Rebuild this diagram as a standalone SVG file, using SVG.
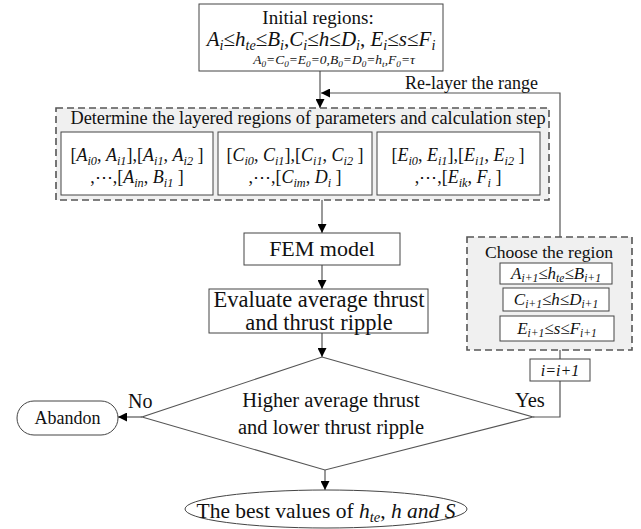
<svg xmlns="http://www.w3.org/2000/svg" width="641" height="529" viewBox="0 0 641 529">
  <defs>
    <style>
      text { font-family: "Liberation Serif", "Times New Roman", serif; fill: #111; }
      .box { fill: #fff; stroke: #444; stroke-width: 1; }
      .dash { fill: #f0f0f0; stroke: #555; stroke-width: 1.6; stroke-dasharray: 7 4; }
      .line { fill: none; stroke: #555; stroke-width: 1.2; }
      .v { font-style: italic; }
      .s { font-style: italic; font-size: 68%; }
      .up { font-style: normal; }
    </style>
    <marker id="arrow" viewBox="0 0 10 10" refX="10" refY="5" markerUnits="userSpaceOnUse" markerWidth="11" markerHeight="9" orient="auto">
      <path d="M0,0 L10,5 L0,10 z" fill="#000"/>
    </marker>
  </defs>

  <!-- connectors and their labels -->
  <g id="connectors">
    <line class="line" x1="320" y1="71" x2="320" y2="108" marker-end="url(#arrow)"/>
    <polyline class="line" points="560,237 560,93 321,93" marker-end="url(#arrow)"/>
    <line class="line" x1="322" y1="200" x2="322" y2="233" marker-end="url(#arrow)"/>
    <line class="line" x1="322" y1="265" x2="322" y2="289" marker-end="url(#arrow)"/>
    <line class="line" x1="322" y1="333" x2="322" y2="357" marker-end="url(#arrow)"/>
    <line class="line" x1="142" y1="417" x2="118" y2="417" marker-end="url(#arrow)"/>
    <polyline class="line" points="533,417 560,417 560,381"/>
    <line class="line" x1="560" y1="350" x2="560" y2="359"/>
    <line class="line" x1="325" y1="470" x2="325" y2="490" marker-end="url(#arrow)"/>
    <text x="405" y="89" font-size="18">Re-layer the range</text>
    <text x="128" y="408" font-size="20">No</text>
    <text x="515" y="407" font-size="20.5">Yes</text>
  </g>

  <!-- initial regions -->
  <g id="initial">
    <rect class="box" x="199" y="4" width="244" height="67"/>
    <text x="318" y="24" font-size="19" text-anchor="middle">Initial regions:</text>
    <text x="321" y="46" font-size="21" text-anchor="middle" class="v">A<tspan class="s" dy="4">i</tspan><tspan class="up" dy="-4">≤</tspan>h<tspan class="s" dy="4">te</tspan><tspan class="up" dy="-4">≤</tspan>B<tspan class="s" dy="4">i</tspan><tspan class="up" dy="-4">,</tspan>C<tspan class="s" dy="4">i</tspan><tspan class="up" dy="-4">≤</tspan>h<tspan class="up">≤</tspan>D<tspan class="s" dy="4">i</tspan><tspan class="up" dy="-4">, </tspan>E<tspan class="s" dy="4">i</tspan><tspan class="up" dy="-4">≤</tspan>s<tspan class="up">≤</tspan>F<tspan class="s" dy="4">i</tspan></text>
    <text x="334" y="64" font-size="13.5" text-anchor="middle" class="v">A<tspan class="s" dy="3">0</tspan><tspan dy="-3">=C</tspan><tspan class="s" dy="3">0</tspan><tspan dy="-3">=E</tspan><tspan class="s" dy="3">0</tspan><tspan dy="-3">=0,B</tspan><tspan class="s" dy="3">0</tspan><tspan dy="-3">=D</tspan><tspan class="s" dy="3">0</tspan><tspan dy="-3">=h</tspan><tspan class="s" dy="3">t</tspan><tspan dy="-3">,F</tspan><tspan class="s" dy="3">0</tspan><tspan dy="-3">=τ</tspan></text>
  </g>

  <!-- layered regions -->
  <g id="layered">
    <rect class="dash" x="56" y="108" width="493" height="92"/>
    <text x="308" y="124" font-size="18.3" text-anchor="middle">Determine the layered regions of parameters and calculation step</text>
    <rect class="box" x="61" y="132" width="152" height="63"/>
    <rect class="box" x="218" y="132" width="154" height="63"/>
    <rect class="box" x="377" y="132" width="163" height="63"/>
    <g font-size="18" text-anchor="middle">
      <text x="137" y="161">[<tspan class="v">A</tspan><tspan class="s" dy="4">i0</tspan><tspan dy="-4">, </tspan><tspan class="v">A</tspan><tspan class="s" dy="4">i1</tspan><tspan dy="-4">],[</tspan><tspan class="v">A</tspan><tspan class="s" dy="4">i1</tspan><tspan dy="-4">, </tspan><tspan class="v">A</tspan><tspan class="s" dy="4">i2</tspan><tspan dy="-4"> ]</tspan></text>
      <text x="137" y="183">,⋯,[<tspan class="v">A</tspan><tspan class="s" dy="4">in</tspan><tspan dy="-4">, </tspan><tspan class="v">B</tspan><tspan class="s" dy="4">i1</tspan><tspan dy="-4"> ]</tspan></text>
      <text x="295" y="161">[<tspan class="v">C</tspan><tspan class="s" dy="4">i0</tspan><tspan dy="-4">, </tspan><tspan class="v">C</tspan><tspan class="s" dy="4">i1</tspan><tspan dy="-4">],[</tspan><tspan class="v">C</tspan><tspan class="s" dy="4">i1</tspan><tspan dy="-4">, </tspan><tspan class="v">C</tspan><tspan class="s" dy="4">i2</tspan><tspan dy="-4"> ]</tspan></text>
      <text x="295" y="183">,⋯,[<tspan class="v">C</tspan><tspan class="s" dy="4">im</tspan><tspan dy="-4">, </tspan><tspan class="v">D</tspan><tspan class="s" dy="4">i</tspan><tspan dy="-4"> ]</tspan></text>
      <text x="458" y="161">[<tspan class="v">E</tspan><tspan class="s" dy="4">i0</tspan><tspan dy="-4">, </tspan><tspan class="v">E</tspan><tspan class="s" dy="4">i1</tspan><tspan dy="-4">],[</tspan><tspan class="v">E</tspan><tspan class="s" dy="4">i1</tspan><tspan dy="-4">, </tspan><tspan class="v">E</tspan><tspan class="s" dy="4">i2</tspan><tspan dy="-4"> ]</tspan></text>
      <text x="458" y="183">,⋯,[<tspan class="v">E</tspan><tspan class="s" dy="4">ik</tspan><tspan dy="-4">, </tspan><tspan class="v">F</tspan><tspan class="s" dy="4">i</tspan><tspan dy="-4"> ]</tspan></text>
    </g>
  </g>

  <!-- FEM model -->
  <g id="fem">
    <rect class="box" x="244" y="233" width="156" height="32"/>
    <text x="322" y="256" font-size="22" text-anchor="middle">FEM model</text>
  </g>

  <!-- evaluate -->
  <g id="evaluate">
    <rect class="box" x="209" y="289" width="219" height="44"/>
    <text x="319" y="307" font-size="22.5" text-anchor="middle">Evaluate average thrust</text>
    <text x="319" y="330" font-size="22.5" text-anchor="middle">and thrust ripple</text>
  </g>

  <!-- decision -->
  <g id="decision">
    <polygon points="322,357 533,417 325,470 142,417" fill="#fff" stroke="#555" stroke-width="1.1"/>
    <text x="331" y="407" font-size="20.5" text-anchor="middle">Higher average thrust</text>
    <text x="331" y="434" font-size="20.5" text-anchor="middle">and lower thrust ripple</text>
  </g>

  <!-- abandon -->
  <g id="abandon">
    <rect class="box" x="17" y="401" width="101" height="34" rx="17"/>
    <text x="67.5" y="424" font-size="18" text-anchor="middle">Abandon</text>
  </g>

  <!-- choose region -->
  <g id="choose">
    <rect class="dash" x="467" y="237" width="165" height="113"/>
    <text x="549" y="258" font-size="17.6" text-anchor="middle">Choose the region</text>
    <rect class="box" x="500" y="263" width="112" height="21"/>
    <rect class="box" x="503" y="288" width="106" height="23"/>
    <rect class="box" x="500" y="316" width="114" height="25"/>
    <g font-size="17" text-anchor="middle" class="v">
      <text x="556" y="279">A<tspan class="s" dy="3">i+1</tspan><tspan class="up" dy="-3">≤</tspan>h<tspan class="s" dy="3">te</tspan><tspan class="up" dy="-3">≤</tspan>B<tspan class="s" dy="3">i+1</tspan></text>
      <text x="556" y="305">C<tspan class="s" dy="3">i+1</tspan><tspan class="up" dy="-3">≤</tspan>h<tspan class="up">≤</tspan>D<tspan class="s" dy="3">i+1</tspan></text>
      <text x="557" y="334">E<tspan class="s" dy="3">i+1</tspan><tspan class="up" dy="-3">≤</tspan>s<tspan class="up">≤</tspan>F<tspan class="s" dy="3">i+1</tspan></text>
    </g>
  </g>

  <!-- increment -->
  <g id="increment">
    <rect class="box" x="530" y="359" width="60" height="22"/>
    <text x="560" y="376" font-size="16" text-anchor="middle" class="v">i=i+1</text>
  </g>

  <!-- result -->
  <g id="result">
    <ellipse cx="326" cy="509" rx="141" ry="19" fill="#fff" stroke="#444" stroke-width="1"/>
    <text x="326" y="518" font-size="21.5" text-anchor="middle">The best values of <tspan class="v">h</tspan><tspan class="s" dy="4">te</tspan><tspan dy="-4">, </tspan><tspan class="v">h and S</tspan></text>
  </g>
</svg>
